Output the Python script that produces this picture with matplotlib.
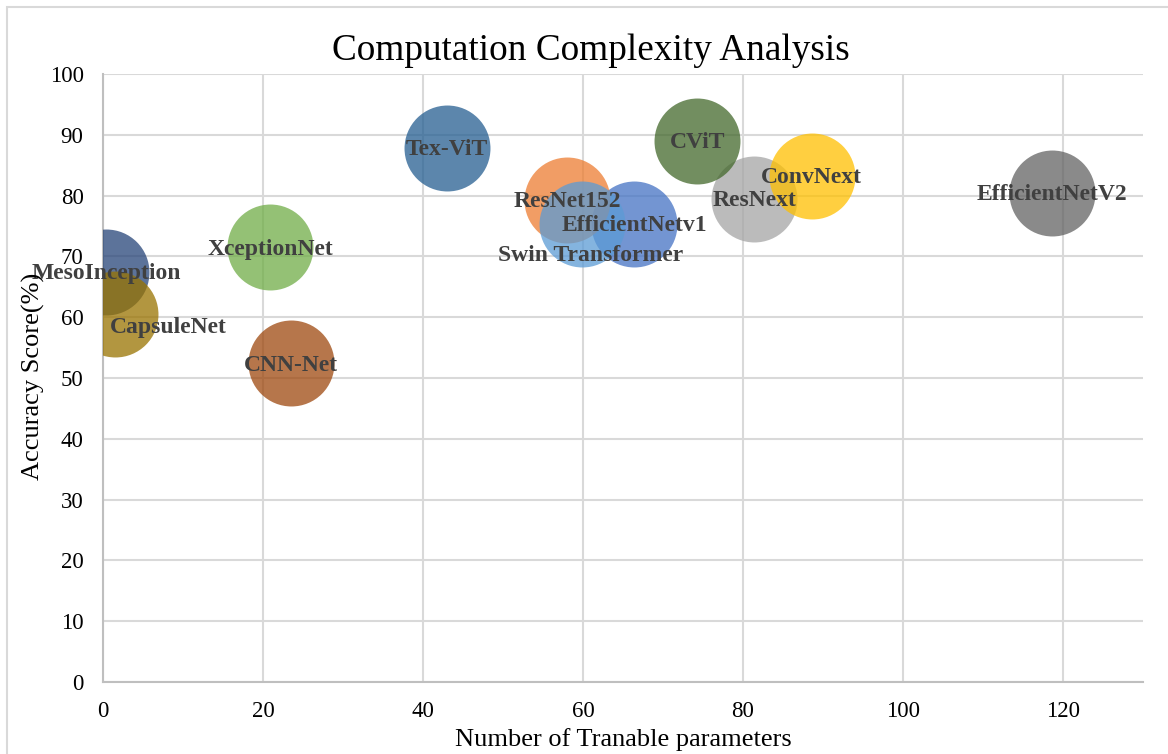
import matplotlib.pyplot as plt
from matplotlib.patches import Rectangle

plt.rcParams['font.family'] = ['Liberation Serif', 'DejaVu Serif']

# Models, in series order
models = ['EfficientNetv1', 'ResNet152', 'ResNext', 'ConvNext', 'Swin Transformer',
          'XceptionNet', 'MesoInception', 'CNN-Net', 'EfficientNetV2', 'CapsuleNet',
          'Tex-ViT', 'CViT']
params = [66.4, 58.0, 81.4, 88.6, 59.9, 20.9, 0.4, 23.5, 118.6, 1.5, 43.0, 74.3]
accuracy = [75.4, 79.3, 79.5, 83.3, 75.3, 71.5, 67.5, 52.4, 80.4, 60.5, 87.9, 89.0]
colors = ['#4472C4', '#ED7D31', '#A5A5A5', '#FFC000', '#5B9BD5', '#70AD47',
          '#264478', '#9E480E', '#636363', '#997300', '#255E91', '#43682B']

# label offsets (x, y) in data units, most sit at the bubble centre
label_offset = {'CapsuleNet': (6.7, -1.9), 'Swin Transformer': (1.1, -4.9)}

fig = plt.figure(figsize=(11.68, 7.54), dpi=100)
fig.patches.append(Rectangle((7 / 1168, -0.1), 1.2, 1 - 7 / 754 + 0.1,
                             transform=fig.transFigure, fill=False,
                             edgecolor='#D9D9D9', linewidth=1.5))

ax = fig.add_axes([103 / 1168, 1 - 682 / 754, 1040 / 1168, 608 / 754])

for m, x, y, c in zip(models, params, accuracy, colors):
    ax.scatter(x, y, s=3830, color=c, alpha=0.75, linewidths=0, zorder=3)

for m, x, y in zip(models, params, accuracy):
    dx, dy = label_offset.get(m, (0, 0))
    ax.text(x + dx, y + dy - 0.3, m, ha='center', va='center', fontsize=17,
            fontweight='bold', color='#404040', zorder=5)

ax.set_xlim(0, 130)
ax.set_ylim(0, 100)
ax.set_xticks(range(0, 121, 20))
ax.set_yticks(range(0, 101, 10))
ax.tick_params(length=0, labelsize=16.5, pad=14)
ax.grid(True, color='#D9D9D9', linewidth=1.5)
ax.set_axisbelow(True)
for s in ['top', 'right']:
    ax.spines[s].set_visible(False)
for s in ['left', 'bottom']:
    ax.spines[s].set_color('#BFBFBF')
    ax.spines[s].set_linewidth(1.5)

fig.text(591 / 1168, 1 - 51 / 754, 'Computation Complexity Analysis',
         ha='center', va='center', fontsize=26.8)
fig.text(623 / 1168, 1 - 740 / 754, 'Number of Tranable parameters',
         ha='center', va='center', fontsize=19)
fig.text(33 / 1168, 1 - 376 / 754, 'Accuracy Score(%)', rotation=90,
         ha='center', va='center', fontsize=19)

fig.savefig('out.png', dpi=100)
